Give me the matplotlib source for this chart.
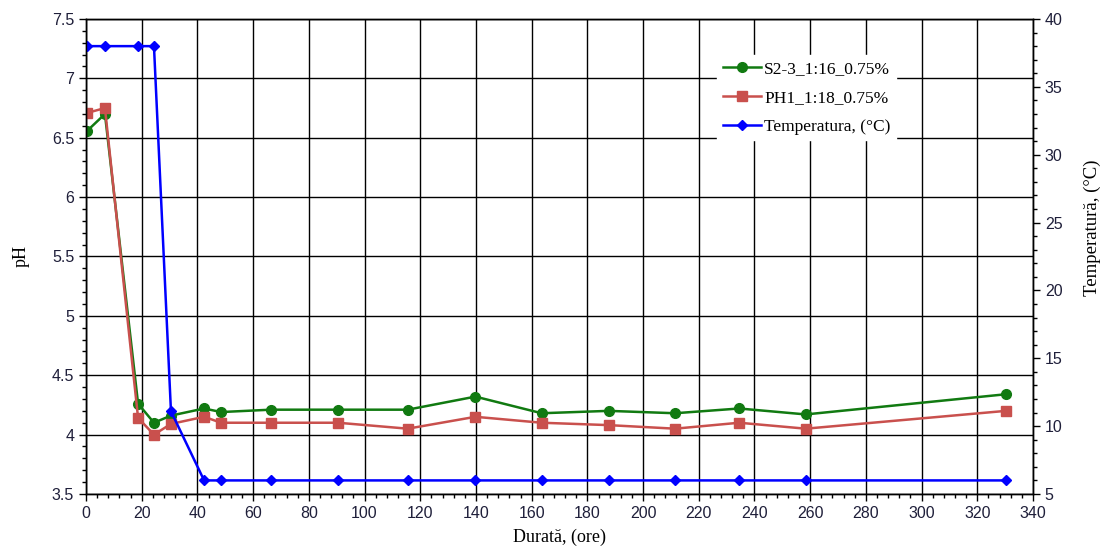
import numpy as np
import matplotlib
matplotlib.use("Agg")
import matplotlib.pyplot as plt
from matplotlib.ticker import MultipleLocator

# Durata (ore)
ore = [0.5, 6.8, 18.7, 24.4, 30.5, 42.4, 48.5, 66.4, 90.5, 115.5, 139.8, 163.6, 187.6, 211.5, 234.5, 258.4, 330.3]
ph_s2 = [6.56, 6.70, 4.26, 4.10, 4.16, 4.22, 4.19, 4.21, 4.21, 4.21, 4.32, 4.18, 4.20, 4.18, 4.22, 4.17, 4.34]
ph_ph1 = [6.71, 6.75, 4.14, 4.00, 4.09, 4.15, 4.10, 4.10, 4.10, 4.05, 4.15, 4.10, 4.08, 4.05, 4.10, 4.05, 4.20]
temp = [38, 38, 38, 38, 11.1, 6, 6, 6, 6, 6, 6, 6, 6, 6, 6, 6, 6]

label_s2 = "S2-3_1:16_0.75%"
label_ph1 = "PH1_1:18_0.75%"
label_temp = "Temperatura, (°C)"

serif = ["Liberation Serif", "DejaVu Serif"]
sans = ["Liberation Sans", "DejaVu Sans"]
tick_col = "#1f1f3a"

fig = plt.figure(figsize=(11.04, 5.49), dpi=100)
ax = fig.add_axes([0.0779, 0.1002, 0.8578, 0.8652])
ax2 = ax.twinx()

l1, = ax.plot(ore, ph_s2, color="#117a11", marker="o", markersize=7, linewidth=1.8, label=label_s2)
l2, = ax.plot(ore, ph_ph1, color="#c9504d", marker="s", markersize=7, linewidth=1.8, label=label_ph1)
l3, = ax2.plot(ore, temp, color="#0000ff", marker="D", markersize=5.5, linewidth=1.8, label=label_temp)

ax.set_xlim(0, 340)
ax.set_ylim(3.5, 7.5)
ax2.set_ylim(5, 40)
ax.xaxis.set_major_locator(MultipleLocator(20))
ax.xaxis.set_minor_locator(MultipleLocator(4))
ax.yaxis.set_major_locator(MultipleLocator(0.5))
ax.yaxis.set_minor_locator(MultipleLocator(0.1))
ax2.yaxis.set_major_locator(MultipleLocator(5))
ax2.yaxis.set_minor_locator(MultipleLocator(1))
ax.yaxis.set_major_formatter(plt.FuncFormatter(lambda v, p: f"{v:g}"))

ax.grid(True, which="major", color="black", linewidth=1.0)
ax.set_axisbelow(True)

for a in (ax, ax2):
    a.tick_params(which="major", direction="out", length=5, width=1, labelsize=11.5, labelcolor=tick_col)
    a.tick_params(which="minor", direction="out", length=3, width=1)
    for lab in a.get_xticklabels() + a.get_yticklabels():
        lab.set_fontfamily(sans)
    for s in a.spines.values():
        s.set_color("black")
        s.set_linewidth(1.0)

ax.set_xlabel("Durată, (ore)", fontsize=13, family=serif, labelpad=6)
ax.set_ylabel("pH", fontsize=13, family=serif)
ax.yaxis.set_label_coords(-0.060, 0.5)
ax2.set_ylabel("Temperatură, (°C)", fontsize=13.5, family=serif)
ax2.yaxis.set_label_coords(1.053, 0.56)

leg = ax2.legend(handles=[l1, l2, l3], loc="upper left", bbox_to_anchor=(0.642, 0.915),
                 bbox_transform=fig.transFigure, frameon=True, fancybox=False,
                 edgecolor="white", facecolor="white", framealpha=1.0,
                 prop={"family": serif, "size": 12.5}, handlelength=2.2,
                 handletextpad=0.2, labelspacing=0.75, borderpad=0.3)

fig.savefig("out.png", dpi=100)
